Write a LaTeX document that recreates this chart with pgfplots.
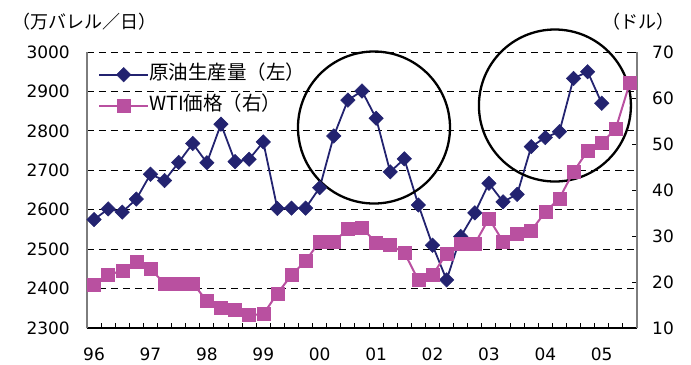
\documentclass[border=0pt]{standalone}
\usepackage{pgfplots}
\pgfplotsset{compat=1.18}
\usepackage{fontspec}
\setmainfont{DejaVu Sans}
\newfontfamily\jp{Noto Sans CJK JP}
\definecolor{navy}{RGB}{35,35,112}
\definecolor{mag}{RGB}{185,80,160}
\definecolor{axgray}{RGB}{125,125,125}
\pgfplotstableread{
x y
0 2575
1 2602
2 2594
3 2627
4 2690
5 2674
6 2720
7 2768
8 2719
9 2817
10 2722
11 2728
12 2772
13 2603
14 2604
15 2604
16 2656
17 2787
18 2878
19 2901
20 2832
21 2696
22 2729
23 2612
24 2510
25 2422
26 2532
27 2592
28 2667
29 2620
30 2639
31 2760
32 2783
33 2798
34 2933
35 2950
36 2870
}\prod
\pgfplotstableread{
x y
0 19.5
1 21.5
2 22.5
3 24.4
4 22.8
5 19.7
6 19.7
7 19.7
8 15.9
9 14.5
10 13.9
11 12.8
12 13.0
13 17.5
14 21.5
15 24.6
16 28.8
17 28.8
18 31.5
19 31.7
20 28.6
21 28.0
22 26.4
23 20.4
24 21.5
25 26.2
26 28.4
27 28.3
28 33.8
29 28.8
30 30.4
31 31.2
32 35.2
33 38.2
34 44.0
35 48.5
36 50.2
37 53.4
38 63.4
}\wti
\begin{document}
\begin{tikzpicture}
\begin{axis}[
  scale only axis, width=550bp, height=276bp, at={(0,0)}, anchor=south west,
  xmin=-0.5, xmax=38.5, ymin=2300, ymax=3000,
  clip=false,
  axis x line*=bottom, axis y line*=left,
  x axis line style={black, line width=1.2bp, -},
  y axis line style={axgray, line width=1.2bp, -},
  xtick={-0.5,0.5,...,38.5}, xticklabels={},
  extra x ticks={0,4,...,36},
  extra x tick labels={96,97,98,99,00,01,02,03,04,05},
  extra x tick style={major tick length=0pt, grid=none},
  tick align=inside, major tick length=5.5bp,
  xtick style={black, line width=1bp},
  ytick={2300,2400,...,3000},
  ytick style={black, line width=1bp},
  ymajorgrids,
  grid style={black, line width=0.9bp, dash pattern=on 7bp off 5bp},
  tick label style={font=\fontsize{17bp}{20bp}\selectfont},
  /pgf/number format/assume math mode=true,
  /pgf/number format/1000 sep={},
  yticklabel style={inner sep=0pt, xshift=-17bp},
  xticklabel style={inner sep=0pt, yshift=-20bp},
  legend style={draw=none, fill=none, at={(0.02,0.951)}, anchor=north west,
    font=\jp\fontsize{19.5bp}{22bp}\selectfont, inner sep=0pt,
    nodes={inner sep=0pt, text height=14bp, text depth=4bp},
    row sep=13bp,
    /tikz/every even column/.style={column sep=6bp}},
  legend cell align=left,
  legend image code/.code={\draw[mark repeat=2, mark phase=2, #1] plot coordinates {(0bp,0bp) (24.5bp,0bp) (49bp,0bp)};},
]
\addplot[navy, line width=1.8bp, mark=square*, mark size=5.1bp,
  mark options={rotate=45, fill=navy, draw=navy, line width=0.5bp}] table[x=x,y=y] {\prod};
\addlegendentry{原油生産量（左）}
\addlegendimage{mag, line width=2bp, mark=square*, mark size=6.5bp, mark options={fill=mag, draw=mag, line width=0.5bp}}
\addlegendentry{WTI価格（右）}
\draw[black, line width=2.3bp] (axis cs:19.85,2808.5) circle[radius=76bp];
\draw[black, line width=2.3bp] (axis cs:32.68,2864.3) circle[radius=76bp];
\end{axis}
\begin{axis}[
  scale only axis, width=550bp, height=276bp, at={(0,0)}, anchor=south west,
  xmin=-0.5, xmax=38.5, ymin=10, ymax=70,
  axis x line=none, axis y line*=right,
  y axis line style={axgray, line width=1.2bp, -},
  ytick={10,20,...,70}, tick align=inside, major tick length=5.5bp,
  ytick style={black, line width=1bp},
  tick label style={font=\fontsize{17bp}{20bp}\selectfont},
  /pgf/number format/assume math mode=true,
  yticklabel style={inner sep=0pt, xshift=15bp},
]
\addplot[mag, line width=2bp, mark=square*, mark size=6.5bp,
  mark options={fill=mag, draw=mag, line width=0.5bp}] table[x=x,y=y] {\wti};
\end{axis}
\node[font=\jp\fontsize{18bp}{20bp}\selectfont] at (-2bp,306bp) {（万バレル／日）};
\node[font=\jp\fontsize{18bp}{20bp}\selectfont] at (551bp,306bp) {（ドル）};
\pgfresetboundingbox
\path[use as bounding box] (-87bp,-37bp) rectangle (604bp,328bp);
\end{tikzpicture}
\end{document}
